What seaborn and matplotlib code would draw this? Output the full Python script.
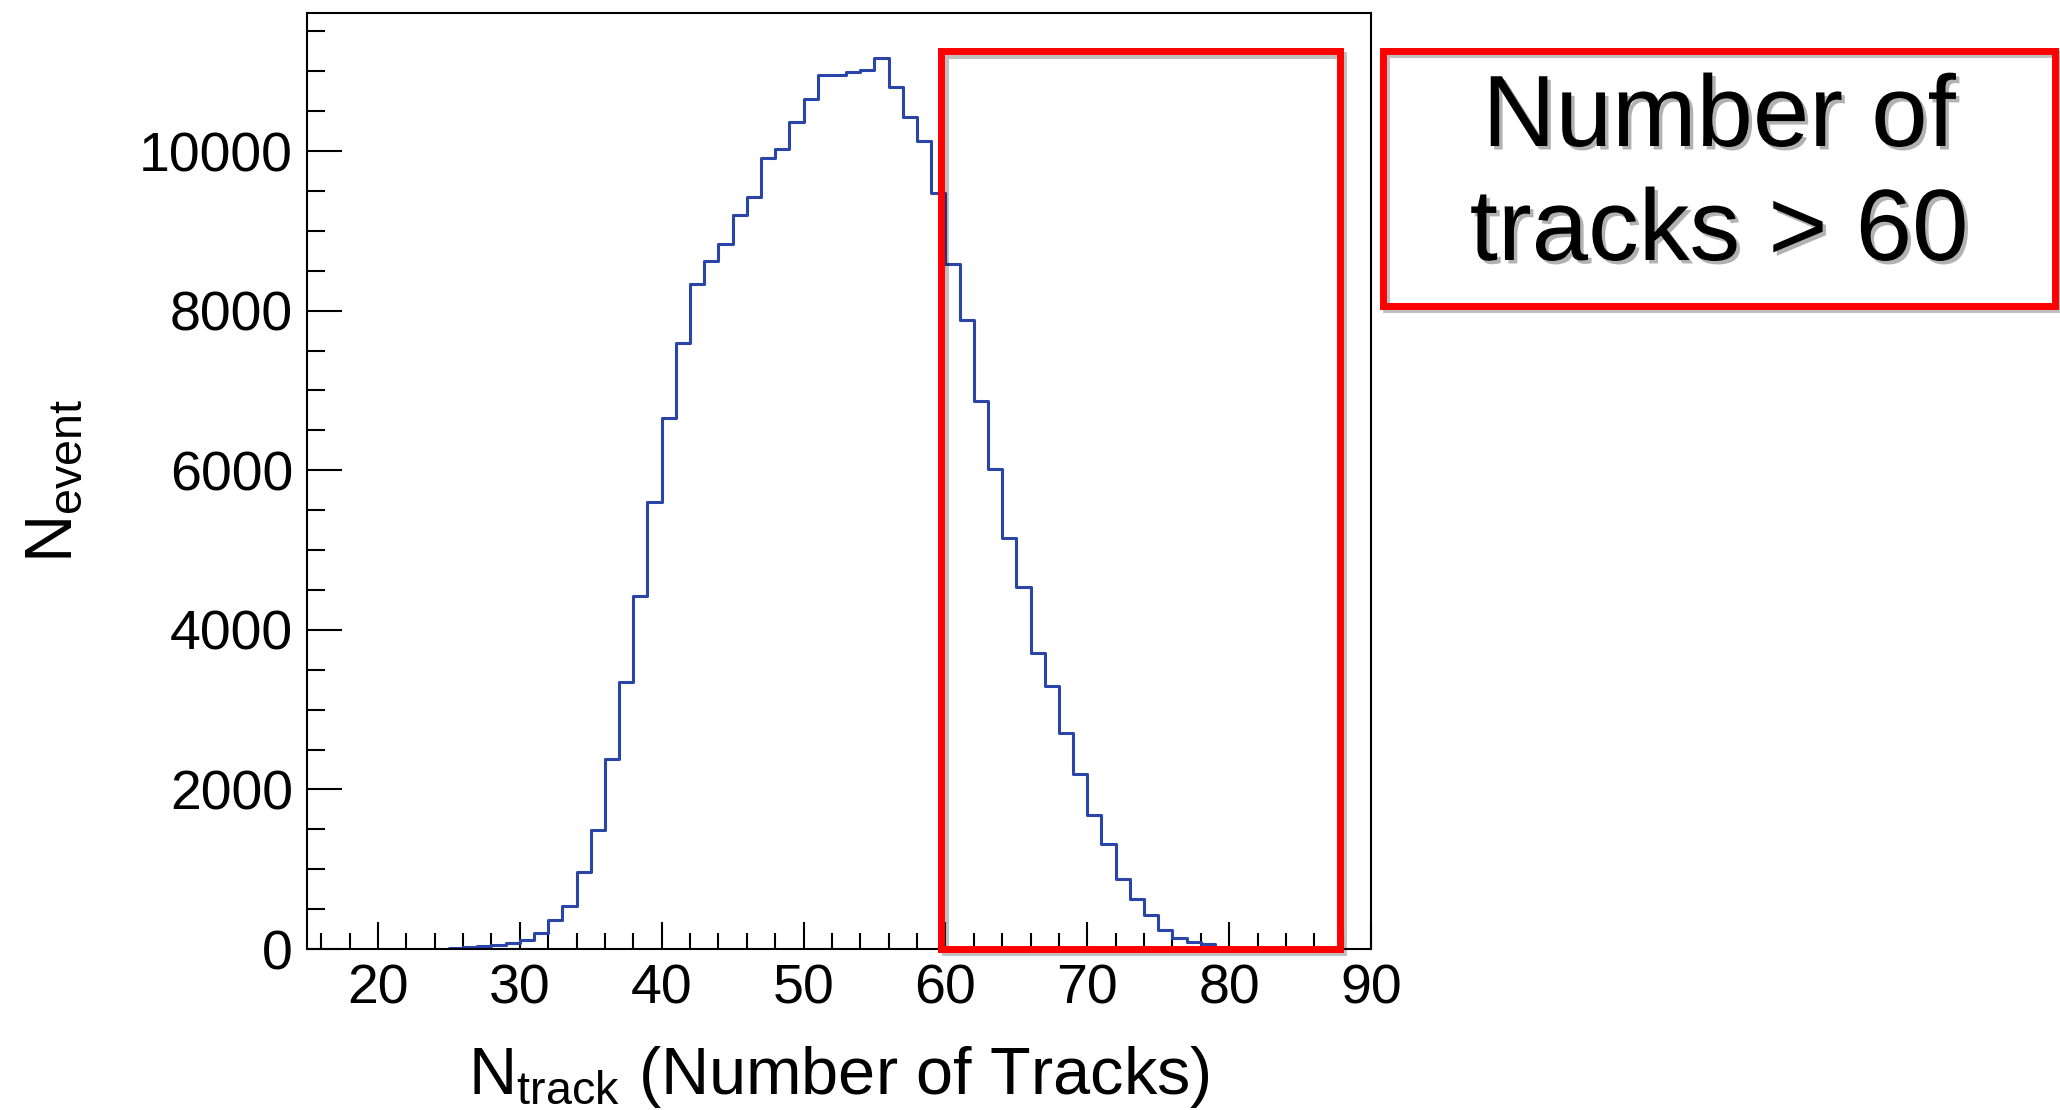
import numpy as np
import pandas as pd
import matplotlib
matplotlib.use("Agg")
import matplotlib.pyplot as plt
import matplotlib.patheffects as pe
from matplotlib.patches import Rectangle
from matplotlib.ticker import MultipleLocator
import seaborn as sns

# Track-multiplicity histogram: lower bin edges (unit-width bins) and event counts
track_bins = list(range(25, 81))
event_counts = [
    15, 25, 40, 55, 75, 110, 200, 360, 545, 970,
    1490, 2375, 3350, 4420, 5600, 6660, 7600, 8340, 8620, 8840,
    9200, 9420, 9910, 10030, 10370, 10650, 10950, 10950, 10990, 11020,
    11170, 10800, 10430, 10120, 9480, 8590, 7880, 6870, 6010, 5150,
    4540, 3710, 3290, 2710, 2190, 1680, 1310, 880, 630, 420,
    240, 140, 90, 60, 25, 10,
]

x_range = (15, 90)
y_range = (0, 11730)

# Selected region (N_track > 60)
cut_x = (59.7, 87.8)
cut_top = 11250
note_lines = ["Number of", "tracks > 60"]

sns.set_theme(style="white")
plt.rcParams["font.family"] = ["Liberation Sans", "DejaVu Sans"]
plt.rcParams["mathtext.default"] = "regular"

W, H = 2060, 1110
fig = plt.figure(figsize=(W / 100, H / 100), dpi=100)
fig.patch.set_facecolor("white")

ax_left, ax_right, ax_top, ax_bottom = 307, 1371, 13, 949
ax = fig.add_axes([ax_left / W, 1 - ax_bottom / H,
                   (ax_right - ax_left) / W, (ax_bottom - ax_top) / H])

df = pd.DataFrame({
    "ntrack": np.array(track_bins, dtype=float) + 0.5,
    "nevent": np.array(event_counts, dtype=float),
})
sns.histplot(data=df, x="ntrack", weights="nevent", binwidth=1,
             binrange=(track_bins[0], track_bins[-1] + 1),
             element="step", fill=False, color="#2a45a8", linewidth=2.2,
             ax=ax)

ax.set_xlim(*x_range)
ax.set_ylim(*y_range)
ax.xaxis.set_major_locator(MultipleLocator(10))
ax.xaxis.set_minor_locator(MultipleLocator(2))
ax.yaxis.set_major_locator(MultipleLocator(2000))
ax.yaxis.set_minor_locator(MultipleLocator(500))

ax.tick_params(axis="x", which="major", direction="in", bottom=True, top=False,
               length=19.5, width=1.5, color="black", labelcolor="black",
               labelsize=40, pad=10.5)
ax.tick_params(axis="x", which="minor", direction="in", bottom=True, top=False,
               length=11.5, width=1.5, color="black")
ax.tick_params(axis="y", which="major", direction="in", left=True, right=False,
               length=25, width=1.5, color="black", labelcolor="black",
               labelsize=40, pad=10)
ax.tick_params(axis="y", which="minor", direction="in", left=True, right=False,
               length=13, width=1.5, color="black")

for spine in ax.spines.values():
    spine.set_visible(True)
    spine.set_color("black")
    spine.set_linewidth(1.5)

ax.set_xlabel("N$_{track}$ (Number of Tracks)", fontsize=48, color="black")
ax.set_ylabel("N$_{event}$", fontsize=48, color="black")
ax.xaxis.label.set_va("baseline")
ax.xaxis.set_label_coords(0.5, -(1094 - ax_bottom) / (ax_bottom - ax_top))
ax.yaxis.label.set_va("baseline")
ax.yaxis.set_label_coords((71 - ax_left) / (ax_right - ax_left), 0.5)

line_shadow = [pe.SimpleLineShadow(offset=(2.5, -2.5), shadow_color="black", alpha=0.25),
               pe.Normal()]

cut_box = Rectangle((cut_x[0], 0), cut_x[1] - cut_x[0], cut_top,
                    fill=False, edgecolor="#ff0000", linewidth=5,
                    zorder=6, clip_on=False, path_effects=line_shadow)
ax.add_patch(cut_box)

# Note box to the right of the plot
bx0, bx1, by0, by1 = 1383, 2055, 51, 306
note_box = Rectangle((bx0 / W, 1 - by1 / H), (bx1 - bx0) / W, (by1 - by0) / H,
                     transform=fig.transFigure, fill=False, edgecolor="#ff0000",
                     linewidth=5, path_effects=line_shadow)
fig.add_artist(note_box)

text_shadow = [pe.withSimplePatchShadow(offset=(2.5, -2.5), shadow_rgbFace="black", alpha=0.3)]
for line, base in zip(note_lines, [146, 260]):
    fig.text((bx0 + bx1) / 2 / W, 1 - base / H, line, ha="center", va="baseline",
             fontsize=73, color="black", path_effects=text_shadow)

fig.savefig("out.png", dpi=100, facecolor="white")
